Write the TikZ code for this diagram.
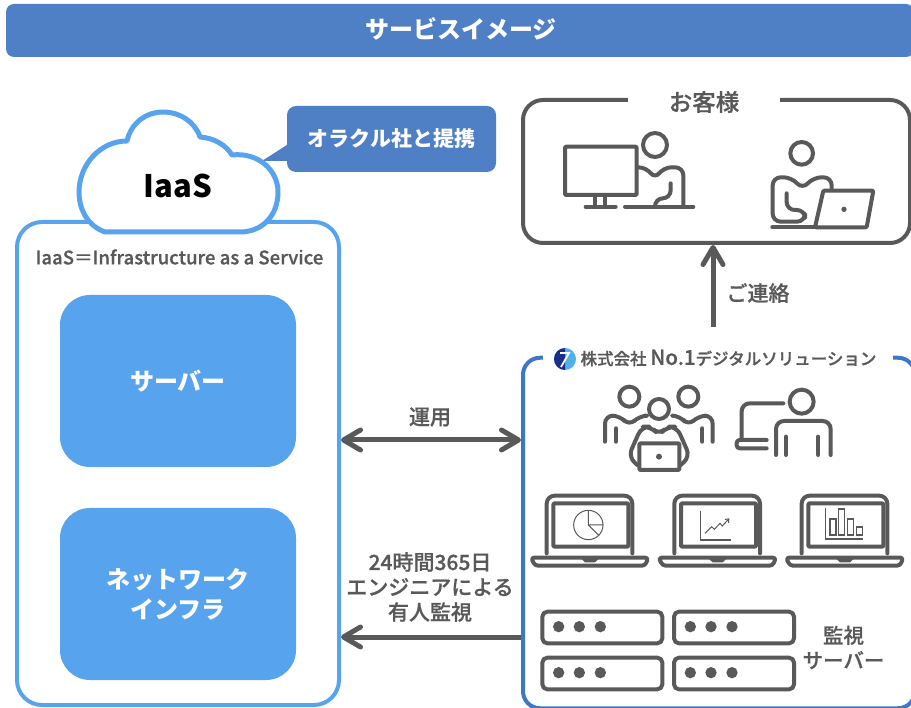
\documentclass[tikz,border=0pt]{standalone}
\usepackage{fontspec}
\usetikzlibrary{arrows.meta}
\setmainfont{Noto Sans CJK JP}
\newfontfamily\medjp[FakeBold=0.7]{Noto Sans CJK JP Medium}
\definecolor{headblue}{HTML}{4F7FC4}
\definecolor{skyblue}{HTML}{58A3EE}
\definecolor{iconblack}{HTML}{595959}
\definecolor{corpblue}{HTML}{3F77C8}
\definecolor{logonavy}{HTML}{1A2E8F}
\definecolor{logosky}{HTML}{4FB3E8}
\tikzset{
  bluebox/.style={fill=skyblue,rounded corners=30pt,minimum width=236pt,minimum height=172pt,inner sep=0pt,
    text=white,font=\bfseries\fontsize{24}{30}\selectfont,align=center},
  framebox/.style={draw,line width=4pt,fill=white,inner sep=0pt},
  darktext/.style={text=iconblack,font=\medjp\fontsize{21}{25}\selectfont,align=center},
  barb/.tip={Straight Barb[round,length=17pt,width=20pt,line width=5pt]},
  bigarrow/.style={draw=iconblack,line width=5pt},
  icon/.style={draw=iconblack,line width=4pt,line cap=round,line join=round,rounded corners=8pt},
  thin icon/.style={draw=iconblack,line width=1pt},
  zoomed/.style={x=1/3*1pt,y=-1/3*1pt}
}
\begin{document}
\begin{tikzpicture}[x=1pt,y=-1pt]
\useasboundingbox (0,0) rectangle (911,708);
% title bar
\node[fill=headblue,rounded corners=8pt,minimum width=908pt,minimum height=53pt,inner sep=0pt] (titlebar) at (460,30.5) {};
\node[text=white,font=\bfseries\fontsize{24}{28}\selectfont] (titletext) at (461,29) {サービスイメージ};
% left side
\node[framebox,draw=skyblue,rounded corners=25pt,minimum width=322pt,minimum height=483pt] (iaasbox) at (178,463.5) {};
\node[text=iconblack,font=\medjp\fontsize{18.6}{20}\selectfont] (iaasnote) at (179.5,257) {IaaS＝Infrastructure as a Service};
\node[bluebox] (server) at (178,381) {サーバー};
\node[bluebox] (network) at (178,594) {ネットワーク\\インフラ};
% callout
\fill[headblue] (262,161) -- (290,143) -- (290,161) -- cycle;
\node[fill=headblue,rounded corners=9pt,minimum width=209pt,minimum height=66pt,inner sep=0pt,
  text=white,font=\bfseries\fontsize{21}{24}\selectfont] (partner) at (391.5,139) {オラクル社と提携};
% cloud
\draw[skyblue,line width=5pt,fill=white,line join=round]
  (105,232) .. controls (88,226) and (79,210) .. (79,192)
  .. controls (79,165) and (100,141) .. (127,141)
  .. controls (131,123) and (146,112) .. (163,112)
  .. controls (180,112) and (195,122) .. (200,137)
  .. controls (214,138) and (226,145) .. (232,155)
  .. controls (258,152) and (278,170) .. (278,192)
  .. controls (278,216) and (262,232) .. (240,232) -- cycle;
\node[text=black,font=\bfseries\fontsize{31}{34}\selectfont] (iaas) at (178,186) {IaaS};
% customer
\node[framebox,draw=iconblack,rounded corners=20pt,minimum width=387pt,minimum height=143pt] (customer) at (716.5,171.5) {};
\node[fill=white,text=iconblack,font=\medjp\fontsize{23.5}{26}\selectfont,minimum width=152pt,inner sep=0pt] (customertitle) at (704,102) {お客様};
% company
\node[framebox,draw=corpblue,rounded corners=17pt,minimum width=392pt,minimum height=350.5pt] (company) at (719,533) {};
\node[fill=white,minimum width=350pt,minimum height=24pt,inner sep=0pt] (companygap) at (717.5,358) {};
\node[text=iconblack,font=\medjp\fontsize{16.5}{20}\selectfont,inner sep=0pt] (companytitle) at (728.5,358) {株式会社 {\fontsize{20.5}{24}\selectfont No.1}デジタルソリューション};
% logo
\fill[logosky] (565,359) circle[radius=11];
\fill[logonavy] (565,370) arc[start angle=90,end angle=270,radius=11] -- cycle;
\draw[white,line width=1.8pt] (560,353) -- (569,353) -- (561,367);
% arrows and labels
\coordinate (opsrow) at (0,440);
\coordinate (monitorrow) at (0,637);
\coordinate (contactfoot) at (713,327);
\draw[bigarrow,barb-barb] (iaasbox.east|-opsrow) -- (company.west|-opsrow);
\draw[bigarrow,-barb] (company.west|-monitorrow) -- (iaasbox.east|-monitorrow);
\draw[bigarrow,-barb] (contactfoot) -- (contactfoot|-customer.south);
\node[darktext] (opslabel) at (430,417) {運用};
\node[darktext] (monitorlabel) at (430,587) {24時間365日\\エンジニアによる\\有人監視};
\node[darktext] (contactlabel) at (758,293) {ご連絡};
\node[darktext,font=\medjp\fontsize{20.5}{25}\selectfont] (monitorserver) at (843.5,647.5) {監視\\サーバー};
% customer icons
\begin{scope}[shift={(520,90)},zoomed]
  \draw[icon,rounded corners=1pt] (135,170) rectangle (350,315);
  \draw[icon] (225,315) -- (225,350) (255,315) -- (255,350) (197,350) -- (287,350);
  \draw[icon] (405,165) circle[radius=36];
  \draw[icon] (355,232) -- (380,232) -- (405,268) -- (430,232) -- (490,232) -- (490,350);
  \draw[icon] (452,280) -- (452,325) -- (405,325) -- (405,350);
  \draw[icon] (315,350) -- (520,350);
  \draw[icon] (845,190) circle[radius=34];
  \draw[icon] (935,295) -- (935,262) -- (880,262) -- (847,298) -- (815,262) -- (758,262) -- (758,395) -- (855,395) -- (855,360) -- (800,360) -- (800,310);
  \draw[icon] (757,412) -- (885,412);
  \draw[icon,rounded corners=1pt] (910,302) -- (1060,302) -- (1040,412) -- (885,412) -- cycle;
  \fill[iconblack] (972,358) circle[radius=8];
\end{scope}
% staff icons
\begin{scope}[shift={(520,345)},zoomed]
  \draw[icon] (328,155) circle[radius=30] (505,155) circle[radius=30] (417,192) circle[radius=30];
  \draw[icon] (255,290) -- (255,212) -- (300,212) -- (328,243) -- (358,212) -- (375,212);
  \draw[icon] (288,250) -- (288,290) (547,250) -- (547,290);
  \draw[icon] (460,212) -- (480,212) -- (505,243) -- (535,212) -- (578,212) -- (578,290);
  \draw[icon] (352,360) -- (325,335) -- (365,245) -- (392,245) -- (417,270) -- (442,245) -- (470,245) -- (510,335) -- (482,360);
  \draw[icon,rounded corners=1pt,fill=white] (358,295) rectangle (478,375);
  \fill[iconblack] (417,335) circle[radius=9];
  \draw[icon] (845,170) circle[radius=36];
  \draw[icon] (790,175) -- (665,175) -- (665,285);
  \draw[icon,rounded corners=3pt] (740,285) -- (650,285) -- (650,310) -- (740,310);
  \draw[icon] (768,330) -- (768,228) -- (932,228) -- (932,330);
  \draw[icon] (798,275) -- (798,330) (895,275) -- (895,330);
  % laptops
  \foreach \dx in {0,383,765} {
    \draw[icon] (80+\dx,625) -- (80+\dx,452) -- (337+\dx,452) -- (337+\dx,625);
    \draw[icon,rounded corners=1pt] (100+\dx,475) rectangle (325+\dx,605);
    \draw[icon,rounded corners=3pt] (33+\dx,638) -- (385+\dx,638) -- (375+\dx,662) -- (45+\dx,662) -- cycle;
    \fill[iconblack] (180+\dx,638) -- (240+\dx,638) -- (225+\dx,652) -- (195+\dx,652) -- cycle;
  }
  \draw[thin icon] (205,540) circle[radius=44];
  \draw[thin icon] (205,497) -- (205,540) -- (250,540) (205,540) -- (237,572);
  \draw[thin icon,line width=1.2pt] (542,497) -- (542,585) -- (632,585);
  \draw[thin icon,-{Straight Barb[length=3pt,width=5pt]}] (555,565) -- (575,545) -- (583,553) -- (600,535) -- (607,543) -- (628,520);
  \draw[thin icon,line width=1.2pt] (917,490) -- (917,582) -- (1028,582);
  \draw[thin icon,line width=1.5pt] (930,522) rectangle (948,570) (956,492) rectangle (974,570) (983,522) rectangle (1001,570) (1010,546) rectangle (1028,570);
\end{scope}
% monitoring servers
\begin{scope}[shift={(520,590)},zoomed]
  \foreach \dx in {0,395} \foreach \dy in {0,138} {
    \draw[icon,rounded corners=5pt] (67+\dx,65+\dy) rectangle (427+\dx,160+\dy);
    \foreach \k in {0,62,125} \fill[iconblack] (116+\dx+\k,110+\dy) circle[radius=17];
  }
\end{scope}
\end{tikzpicture}
\end{document}
